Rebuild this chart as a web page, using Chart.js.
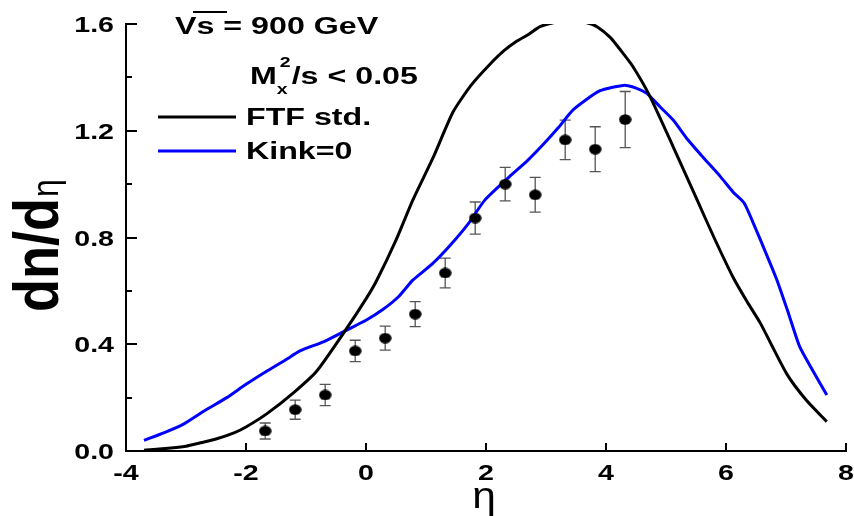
<!DOCTYPE html>
<html><head><meta charset="utf-8">
<script src="https://cdn.jsdelivr.net/npm/chart.js@4.4.0/dist/chart.umd.min.js"></script>
<style>html,body{margin:0;padding:0;background:#fff;}#wrap{width:854px;height:516px;}</style>
</head><body><div id="wrap"><canvas id="c" width="854" height="516"></canvas></div>
<script>
// ---- data ----
const ftfEta = [-3.7,-3.3,-3.0,-2.77,-2.5,-2.2,-2.0,-1.65,-1.2,-0.82,-0.35,0.0,0.18,0.5,0.78,1.12,1.45,1.75,2.07,2.3,2.51,2.7,2.9,3.12,3.4,3.68,3.85,4.07,4.25,4.45,4.73,5.12,5.5,5.8,6.12,6.35,6.57,7.01,7.34,7.68];
const ftfVal = [0.003,0.010,0.018,0.03,0.045,0.068,0.09,0.14,0.22,0.30,0.45,0.57,0.64,0.79,0.94,1.10,1.27,1.37,1.45,1.50,1.535,1.56,1.59,1.605,1.61,1.605,1.59,1.55,1.50,1.44,1.33,1.14,0.95,0.80,0.65,0.56,0.48,0.29,0.19,0.11];
const kinkEta = [-3.7,-3.35,-3.05,-2.7,-2.32,-2.0,-1.65,-1.35,-1.1,-0.7,-0.35,0.0,0.28,0.55,0.78,1.1,1.4,1.7,1.98,2.4,2.7,2.96,3.2,3.46,3.9,4.29,4.5,4.68,4.9,5.12,5.35,5.62,5.9,6.12,6.3,6.5,6.65,6.85,7.05,7.23,7.45,7.68];
const kinkVal = [0.04,0.07,0.10,0.15,0.20,0.25,0.30,0.34,0.375,0.41,0.45,0.49,0.53,0.58,0.64,0.70,0.77,0.85,0.94,1.03,1.09,1.15,1.21,1.28,1.35,1.37,1.36,1.34,1.29,1.24,1.17,1.10,1.03,0.97,0.93,0.83,0.75,0.64,0.51,0.39,0.30,0.21];
const dataEta = [-1.68,-1.18,-0.68,-0.18,0.32,0.82,1.32,1.82,2.32,2.82,3.32,3.82,4.32];
const dataVal = [0.075,0.155,0.21,0.375,0.423,0.513,0.667,0.873,1.0,0.96,1.166,1.131,1.242];
const dataErr = [0.03,0.036,0.04,0.04,0.045,0.047,0.056,0.06,0.063,0.065,0.074,0.084,0.105];
const xTickValues = [-4,-2,0,2,4,6,8];
const xTickLabels = ['-4','-2','0','2','4','6','8'];
const yTickValues = [0,0.4,0.8,1.2,1.6];
const yTickLabels = ['0.0','0.4','0.8','1.2','1.6'];
const yMinorTicks = [0.2,0.6,1.0,1.4];
const seriesNames = ['FTF std.','Kink=0'];
const xTitle = 'η';
const yTitleMain = 'dn/d';
const yTitleSub = 'η';

const toXY = (xs, ys) => xs.map((x, i) => ({x: x, y: ys[i]}));

// ellipse marker
const dot = document.createElement('canvas');
dot.width = 13; dot.height = 11;
{ const g = dot.getContext('2d'); g.fillStyle = '#000'; g.beginPath(); g.ellipse(6.5,5.5,6.2,5.2,0,0,Math.PI*2); g.fill(); }

const FONT = '"Liberation Sans", Arial, sans-serif';
function sText(ctx, text, x, y, size, sx, align, weight) {
  ctx.save();
  ctx.font = (weight || 'bold') + ' ' + size + 'px ' + FONT;
  ctx.textBaseline = 'alphabetic';
  const w = ctx.measureText(text).width * sx;
  let x0 = x;
  if (align === 'center') x0 = x - w / 2; else if (align === 'right') x0 = x - w;
  ctx.translate(x0, y); ctx.scale(sx, 1);
  ctx.fillStyle = '#000';
  ctx.fillText(text, 0, 0);
  ctx.restore();
  return x0 + w;
}

const errorBars = {
  id: 'errorBars',
  beforeDatasetsDraw(chart) {
    const ctx = chart.ctx, xs = chart.scales.x, ys = chart.scales.y;
    ctx.save();
    ctx.strokeStyle = '#555'; ctx.lineWidth = 1.3;
    dataEta.forEach((e, i) => {
      const px = xs.getPixelForValue(e);
      const t = ys.getPixelForValue(dataVal[i] + dataErr[i]);
      const b = ys.getPixelForValue(dataVal[i] - dataErr[i]);
      ctx.beginPath();
      ctx.moveTo(px, t); ctx.lineTo(px, b);
      ctx.moveTo(px - 5.5, t); ctx.lineTo(px + 5.5, t);
      ctx.moveTo(px - 5.5, b); ctx.lineTo(px + 5.5, b);
      ctx.stroke();
    });
    ctx.restore();
  }
};

const decorations = {
  id: 'decorations',
  afterDraw(chart) {
    const ctx = chart.ctx, xs = chart.scales.x, ys = chart.scales.y, a = chart.chartArea;
    ctx.save();
    ctx.strokeStyle = '#000'; ctx.lineWidth = 2;
    // ticks (inward)
    ctx.beginPath();
    yTickValues.forEach(v => { const p = Math.round(ys.getPixelForValue(v)); ctx.moveTo(a.left, p); ctx.lineTo(a.left + 11, p); });
    yMinorTicks.forEach(v => { const p = Math.round(ys.getPixelForValue(v)); ctx.moveTo(a.left, p); ctx.lineTo(a.left + 6, p); });
    xTickValues.forEach(v => { const p = Math.round(xs.getPixelForValue(v)); ctx.moveTo(p, a.bottom); ctx.lineTo(p, a.bottom - 8); });
    ctx.stroke();
    // tick labels
    yTickValues.forEach((v, i) => sText(ctx, yTickLabels[i], a.left - 12, ys.getPixelForValue(v) + 8, 22, 1.3, 'right'));
    xTickValues.forEach((v, i) => sText(ctx, xTickLabels[i], xs.getPixelForValue(v), 480, 22, 1.3, 'center'));
    // axis titles
    sText(ctx, xTitle, 484, 508, 37, 1.15, 'center', 'normal');
    ctx.save();
    ctx.translate(58, 312);
    ctx.rotate(-Math.PI / 2);
    ctx.scale(1, 1.15);
    ctx.fillStyle = '#000';
    ctx.font = 'bold 54px ' + FONT;
    ctx.fillText(yTitleMain, 0, 0);
    const w = ctx.measureText(yTitleMain).width;
    ctx.font = 'normal 32px ' + FONT;
    ctx.fillText(yTitleSub, w + 1, 0);
    ctx.restore();
    // annotations
    sText(ctx, 'Vs = 900 GeV', 175, 34, 23, 1.4, 'left');
    ctx.beginPath(); ctx.lineWidth = 2; ctx.moveTo(193, 12); ctx.lineTo(227, 12); ctx.stroke();
    let xx = sText(ctx, 'M', 250, 84, 23, 1.4, 'left');
    sText(ctx, 'x', xx, 94, 15, 1.3, 'left');
    const x2 = sText(ctx, '2', xx + 3, 67, 15, 1.3, 'left');
    sText(ctx, '/s < 0.05', x2 + 1, 84, 23, 1.4, 'left');
    // legend
    ctx.lineWidth = 3;
    ctx.strokeStyle = '#000';
    ctx.beginPath(); ctx.moveTo(158, 117); ctx.lineTo(236, 117); ctx.stroke();
    ctx.strokeStyle = '#0000ff';
    ctx.beginPath(); ctx.moveTo(158, 151); ctx.lineTo(236, 151); ctx.stroke();
    sText(ctx, seriesNames[0], 246, 125, 23, 1.4, 'left');
    sText(ctx, seriesNames[1], 246, 159, 23, 1.4, 'left');
    ctx.restore();
  }
};

new Chart(document.getElementById('c'), {
  type: 'scatter',
  data: {
    datasets: [
      { label: 'data', data: toXY(dataEta, dataVal), pointStyle: dot, pointRadius: 6, backgroundColor: '#000', borderWidth: 0 },
      { label: seriesNames[0], data: toXY(ftfEta, ftfVal), showLine: true, borderColor: '#000', borderWidth: 3, pointRadius: 0, tension: 0.2, fill: false, clip: 0 },
      { label: seriesNames[1], data: toXY(kinkEta, kinkVal), showLine: true, borderColor: '#0000ff', borderWidth: 3, pointRadius: 0, tension: 0.2, fill: false }
    ]
  },
  options: {
    responsive: false,
    animation: false,
    devicePixelRatio: 1,
    layout: { padding: { top: 24, right: 8, left: 0, bottom: 0 } },
    plugins: { legend: { display: false }, tooltip: { enabled: false } },
    scales: {
      x: { type: 'linear', min: -4, max: 8,
           grid: { display: false, drawTicks: false },
           border: { display: true, color: '#000', width: 2 },
           ticks: { display: false },
           afterFit(s) { s.height = 65; } },
      y: { type: 'linear', min: 0, max: 1.6,
           grid: { display: false, drawTicks: false },
           border: { display: true, color: '#000', width: 2 },
           ticks: { display: false },
           afterFit(s) { s.width = 126; } }
    }
  },
  plugins: [errorBars, decorations]
});
</script>
</body></html>
